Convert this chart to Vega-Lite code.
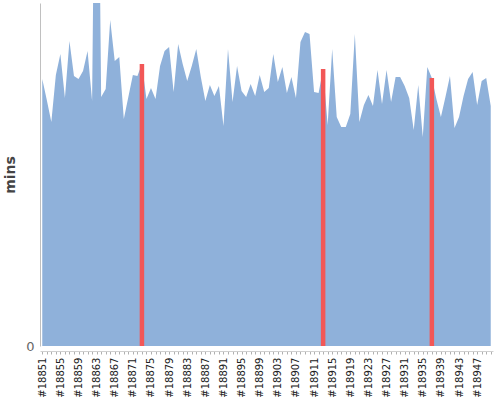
{
  "$schema": "https://vega.github.io/schema/vega-lite/v6.json",
  "width": 453,
  "height": 343,
  "autosize": "none",
  "padding": {"left": 40, "top": 3, "right": 7, "bottom": 54},
  "background": "white",
  "config": {
    "view": {"stroke": null},
    "font": "DejaVu Sans"
  },
  "data": {
    "values": [
      {"id": "#18851", "mins": 267}, {"id": "#18852", "mins": 246}, {"id": "#18853", "mins": 224}, {"id": "#18854", "mins": 271},
      {"id": "#18855", "mins": 292}, {"id": "#18856", "mins": 248}, {"id": "#18857", "mins": 305}, {"id": "#18858", "mins": 270},
      {"id": "#18859", "mins": 267}, {"id": "#18860", "mins": 275}, {"id": "#18861", "mins": 295}, {"id": "#18862", "mins": 245},
      {"id": "#18863", "mins": 700}, {"id": "#18864", "mins": 249}, {"id": "#18865", "mins": 257}, {"id": "#18866", "mins": 326},
      {"id": "#18867", "mins": 285}, {"id": "#18868", "mins": 289}, {"id": "#18869", "mins": 227}, {"id": "#18870", "mins": 249},
      {"id": "#18871", "mins": 271}, {"id": "#18872", "mins": 270}, {"id": "#18873", "mins": 282, "highlight": true}, {"id": "#18874", "mins": 247},
      {"id": "#18875", "mins": 258}, {"id": "#18876", "mins": 247}, {"id": "#18877", "mins": 280}, {"id": "#18878", "mins": 295},
      {"id": "#18879", "mins": 299}, {"id": "#18880", "mins": 254}, {"id": "#18881", "mins": 302}, {"id": "#18882", "mins": 282},
      {"id": "#18883", "mins": 265}, {"id": "#18884", "mins": 280}, {"id": "#18885", "mins": 297}, {"id": "#18886", "mins": 269},
      {"id": "#18887", "mins": 245}, {"id": "#18888", "mins": 261}, {"id": "#18889", "mins": 250}, {"id": "#18890", "mins": 260},
      {"id": "#18891", "mins": 220}, {"id": "#18892", "mins": 297}, {"id": "#18893", "mins": 244}, {"id": "#18894", "mins": 280},
      {"id": "#18895", "mins": 255}, {"id": "#18896", "mins": 249}, {"id": "#18897", "mins": 262}, {"id": "#18898", "mins": 250},
      {"id": "#18899", "mins": 271}, {"id": "#18900", "mins": 254}, {"id": "#18901", "mins": 258}, {"id": "#18902", "mins": 292},
      {"id": "#18903", "mins": 264}, {"id": "#18904", "mins": 279}, {"id": "#18905", "mins": 253}, {"id": "#18906", "mins": 269},
      {"id": "#18907", "mins": 248}, {"id": "#18908", "mins": 304}, {"id": "#18909", "mins": 314}, {"id": "#18910", "mins": 312},
      {"id": "#18911", "mins": 254}, {"id": "#18912", "mins": 253}, {"id": "#18913", "mins": 277, "highlight": true}, {"id": "#18914", "mins": 221},
      {"id": "#18915", "mins": 297}, {"id": "#18916", "mins": 229}, {"id": "#18917", "mins": 219}, {"id": "#18918", "mins": 219},
      {"id": "#18919", "mins": 232}, {"id": "#18920", "mins": 312}, {"id": "#18921", "mins": 224}, {"id": "#18922", "mins": 241},
      {"id": "#18923", "mins": 251}, {"id": "#18924", "mins": 240}, {"id": "#18925", "mins": 276}, {"id": "#18926", "mins": 242},
      {"id": "#18927", "mins": 276}, {"id": "#18928", "mins": 244}, {"id": "#18929", "mins": 269}, {"id": "#18930", "mins": 269},
      {"id": "#18931", "mins": 260}, {"id": "#18932", "mins": 248}, {"id": "#18933", "mins": 216}, {"id": "#18934", "mins": 261},
      {"id": "#18935", "mins": 209}, {"id": "#18936", "mins": 279}, {"id": "#18937", "mins": 268, "highlight": true}, {"id": "#18938", "mins": 247},
      {"id": "#18939", "mins": 229}, {"id": "#18940", "mins": 249}, {"id": "#18941", "mins": 270}, {"id": "#18942", "mins": 218},
      {"id": "#18943", "mins": 229}, {"id": "#18944", "mins": 250}, {"id": "#18945", "mins": 267}, {"id": "#18946", "mins": 274},
      {"id": "#18947", "mins": 241}, {"id": "#18948", "mins": 265}, {"id": "#18949", "mins": 268}, {"id": "#18950", "mins": 240}
    ]
  },
  "encoding": {
    "x": {
      "field": "id",
      "type": "ordinal",
      "sort": null,
      "scale": {"type": "point", "padding": 0.5},
      "axis": {
        "title": null,
        "labelAngle": -90,
        "labelExpr": "(parseInt(substring(datum.label, 1)) - 18851) % 4 === 0 ? datum.label : ''",
        "labelFontSize": 10,
        "labelColor": "#222",
        "labelPadding": 3,
        "labelOverlap": false,
        "offset": 5,
        "domainColor": "#d0d0d0",
        "tickColor": "#b0b0b0",
        "tickSize": 3,
        "grid": false
      }
    },
    "y": {
      "field": "mins",
      "type": "quantitative",
      "scale": {"domain": [0, 343], "nice": false},
      "axis": {
        "title": "mins",
        "titleFontSize": 14,
        "titleFontWeight": "bold",
        "titleColor": "#444",
        "titlePadding": 8,
        "values": [0],
        "ticks": false,
        "labelFontSize": 13,
        "labelColor": "#666",
        "labelPadding": 6,
        "domainColor": "#c0c0c0",
        "grid": false
      }
    }
  },
  "layer": [
    {
      "mark": {"type": "area", "color": "#8fb1da", "opacity": 1, "clip": true}
    },
    {
      "transform": [{"filter": "datum.highlight === true"}],
      "mark": {"type": "rule", "color": "#f25757", "strokeWidth": 4.5, "clip": true},
      "encoding": {
        "y2": {"datum": 0}
      }
    }
  ]
}
